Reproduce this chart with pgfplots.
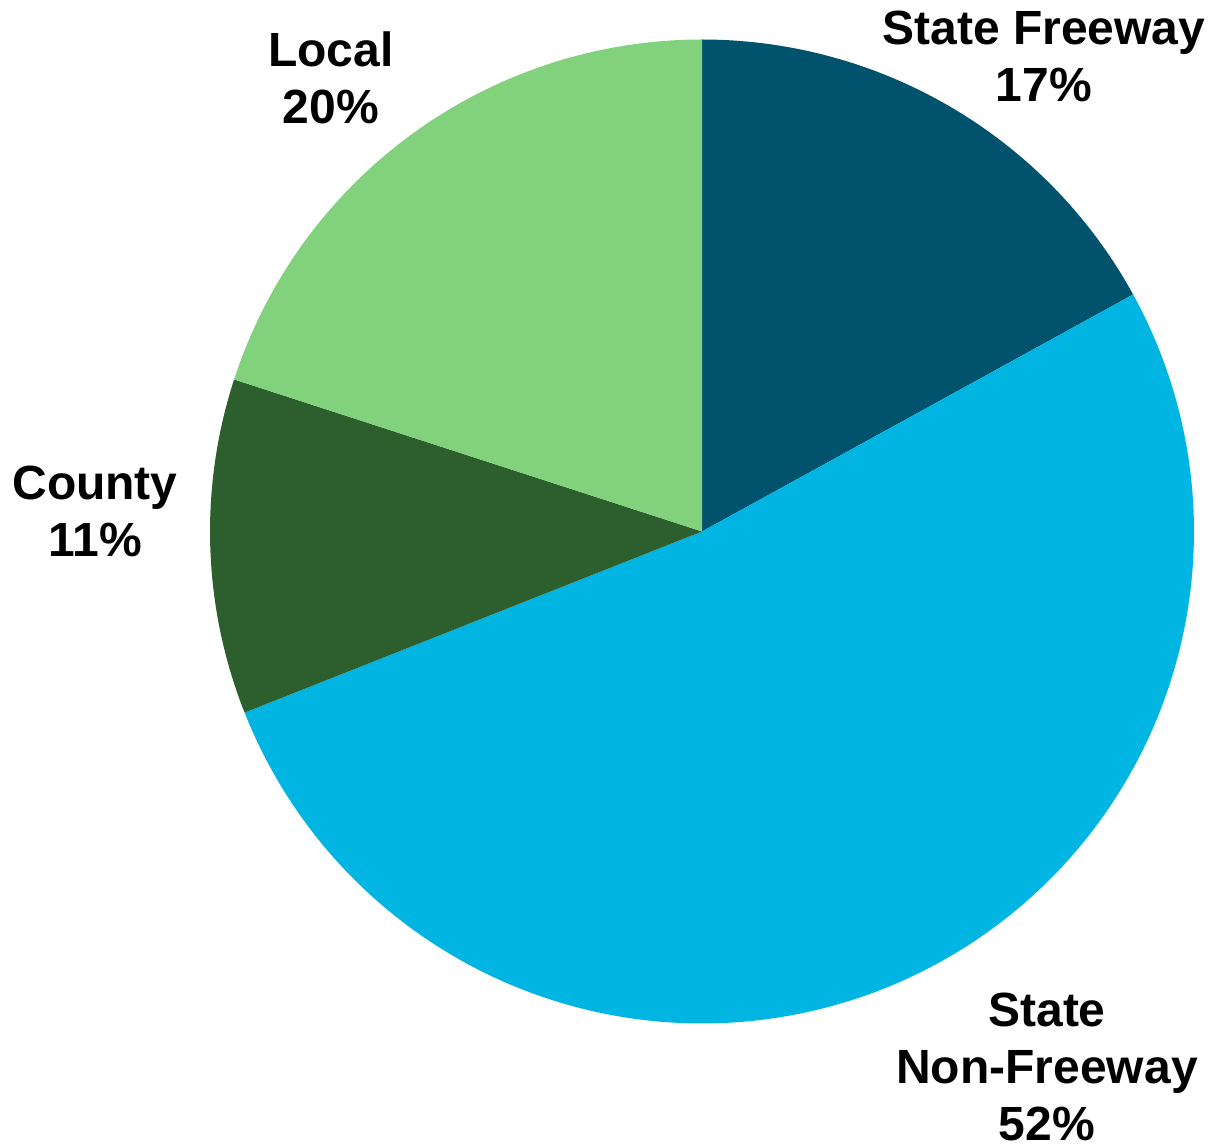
\documentclass[border=0pt]{standalone}
\usepackage{pgfplots}
\pgfplotsset{compat=1.18}
\usepackage{fontspec}
\setmainfont{Liberation Sans}
\definecolor{cFree}{HTML}{00526D}
\definecolor{cNon}{HTML}{00B5E2}
\definecolor{cCounty}{HTML}{2C5F2D}
\definecolor{cLocal}{HTML}{82D17C}
% shares in percent
\def\vFree{17}
\def\vNon{52}
\def\vCounty{11}
\def\vLocal{20}
\begin{document}
\begin{tikzpicture}
\pgfmathsetmacro{\aA}{90}
\pgfmathsetmacro{\aB}{\aA-3.6*\vFree}
\pgfmathsetmacro{\aC}{\aB-3.6*\vNon}
\pgfmathsetmacro{\aD}{\aC-3.6*\vCounty}
\pgfmathsetmacro{\aE}{\aD-3.6*\vLocal}
\def\cx{702}\def\cy{613.5}\def\R{492}
\begin{axis}[name=ax, hide axis, scale only axis, width=606pt, height=572.5pt,
  xmin=0, xmax=1212, ymin=0, ymax=1145, clip=false]
\addplot[fill=cFree, draw=none, domain=\aB:\aA, samples=80] ({\cx+\R*cos(x)},{\cy+\R*sin(x)}) -- (axis cs:\cx,\cy) -- cycle;
\addplot[fill=cNon, draw=none, domain=\aC:\aB, samples=200] ({\cx+\R*cos(x)},{\cy+\R*sin(x)}) -- (axis cs:\cx,\cy) -- cycle;
\addplot[fill=cCounty, draw=none, domain=\aD:\aC, samples=60] ({\cx+\R*cos(x)},{\cy+\R*sin(x)}) -- (axis cs:\cx,\cy) -- cycle;
\addplot[fill=cLocal, draw=none, domain=\aE:\aD, samples=80] ({\cx+\R*cos(x)},{\cy+\R*sin(x)}) -- (axis cs:\cx,\cy) -- cycle;
\tikzset{lab/.style={anchor=base, inner sep=0pt, font=\fontsize{24}{28}\selectfont\bfseries}}
\node[lab] at (axis cs:1044,1100) {State Freeway};
\node[lab] at (axis cs:1044,1043) {\vFree\%};
\node[lab] at (axis cs:331,1078) {Local};
\node[lab] at (axis cs:331,1021) {\vLocal\%};
\node[lab] at (axis cs:95,645) {County};
\node[lab] at (axis cs:95,588) {\vCounty\%};
\node[lab] at (axis cs:1047,118) {State};
\node[lab] at (axis cs:1047,61) {Non-Freeway};
\node[lab] at (axis cs:1047,4) {\vNon\%};
\end{axis}
\pgfresetboundingbox
\useasboundingbox (ax.south west) rectangle (ax.north east);
\end{tikzpicture}
\end{document}
